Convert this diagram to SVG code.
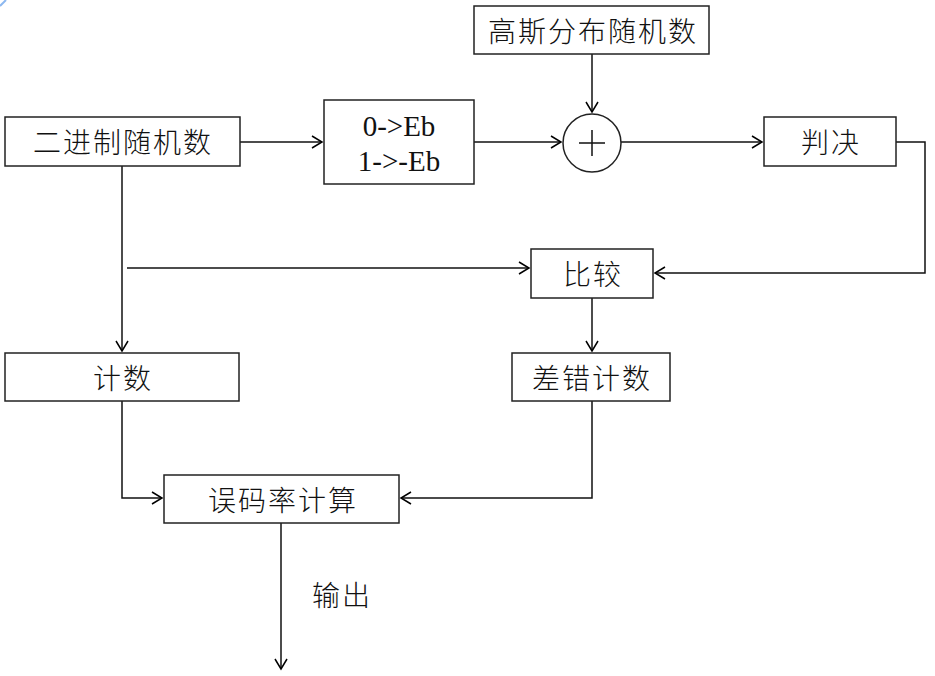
<svg xmlns="http://www.w3.org/2000/svg" width="935" height="676" viewBox="0 0 935 676">
<defs>
<marker id="arr" markerWidth="14" markerHeight="14" refX="11" refY="7" orient="auto" markerUnits="userSpaceOnUse">
<path d="M1,1 L11,7 L1,13" fill="none" stroke="#000" stroke-width="1.5"/>
</marker>
<style>
.box{fill:#fff;stroke:#222;stroke-width:1.5}
.cn{font-family:"Noto Sans CJK SC","Noto Sans CJK JP",sans-serif;font-size:28px;font-weight:300;fill:#111;text-anchor:middle;letter-spacing:2px}
.en{font-family:"Liberation Serif","Times New Roman",serif;font-size:29px;fill:#111;text-anchor:middle}
.ln{fill:none;stroke:#111;stroke-width:1.5}
</style>
</defs>
<rect width="935" height="676" fill="#fff"/>
<path d="M0,6 Q3,3 6,0" fill="none" stroke="#8cb8f0" stroke-width="2"/>
<g id="connectors">
<path class="ln" d="M240,142 H322" marker-end="url(#arr)"/>
<path class="ln" d="M474,142 H561" marker-end="url(#arr)"/>
<path class="ln" d="M592,54 V112" marker-end="url(#arr)"/>
<path class="ln" d="M621,142 H762" marker-end="url(#arr)"/>
<path class="ln" d="M896,142 H925 V273 H655" marker-end="url(#arr)"/>
<path class="ln" d="M127,268 H529" marker-end="url(#arr)"/>
<path class="ln" d="M122,166 V351" marker-end="url(#arr)"/>
<path class="ln" d="M592,298 V351" marker-end="url(#arr)"/>
<path class="ln" d="M122,401 V498 H162" marker-end="url(#arr)"/>
<path class="ln" d="M592,401 V498 H401" marker-end="url(#arr)"/>
<path class="ln" d="M281,523 V669" marker-end="url(#arr)"/>
</g>
<g id="n_binary">
<rect class="box" x="5" y="117" width="235" height="49"/>
<text class="cn" x="123" y="153">二进制随机数</text>
</g>
<g id="n_map">
<rect class="box" x="324" y="100" width="150" height="84"/>
<text class="en" x="399" y="136">0-&gt;Eb</text>
<text class="en" x="399" y="171">1-&gt;-Eb</text>
</g>
<g id="n_gauss">
<rect class="box" x="474" y="6" width="235" height="48"/>
<text class="cn" x="593" y="42">高斯分布随机数</text>
</g>
<g id="n_sum">
<circle class="box" cx="592" cy="143" r="29"/>
<path class="ln" d="M579,143 H605 M592,130 V156"/>
</g>
<g id="n_decide">
<rect class="box" x="764" y="117" width="132" height="49"/>
<text class="cn" x="831" y="153">判决</text>
</g>
<g id="n_compare">
<rect class="box" x="531" y="249" width="122" height="49"/>
<text class="cn" x="593" y="285">比较</text>
</g>
<g id="n_count">
<rect class="box" x="5" y="353" width="234" height="48"/>
<text class="cn" x="123" y="389">计数</text>
</g>
<g id="n_errcount">
<rect class="box" x="512" y="353" width="158" height="48"/>
<text class="cn" x="592" y="389">差错计数</text>
</g>
<g id="n_ber">
<rect class="box" x="164" y="475" width="235" height="48"/>
<text class="cn" x="283" y="511">误码率计算</text>
</g>
<text class="cn" x="342" y="606">输出</text>
</svg>
